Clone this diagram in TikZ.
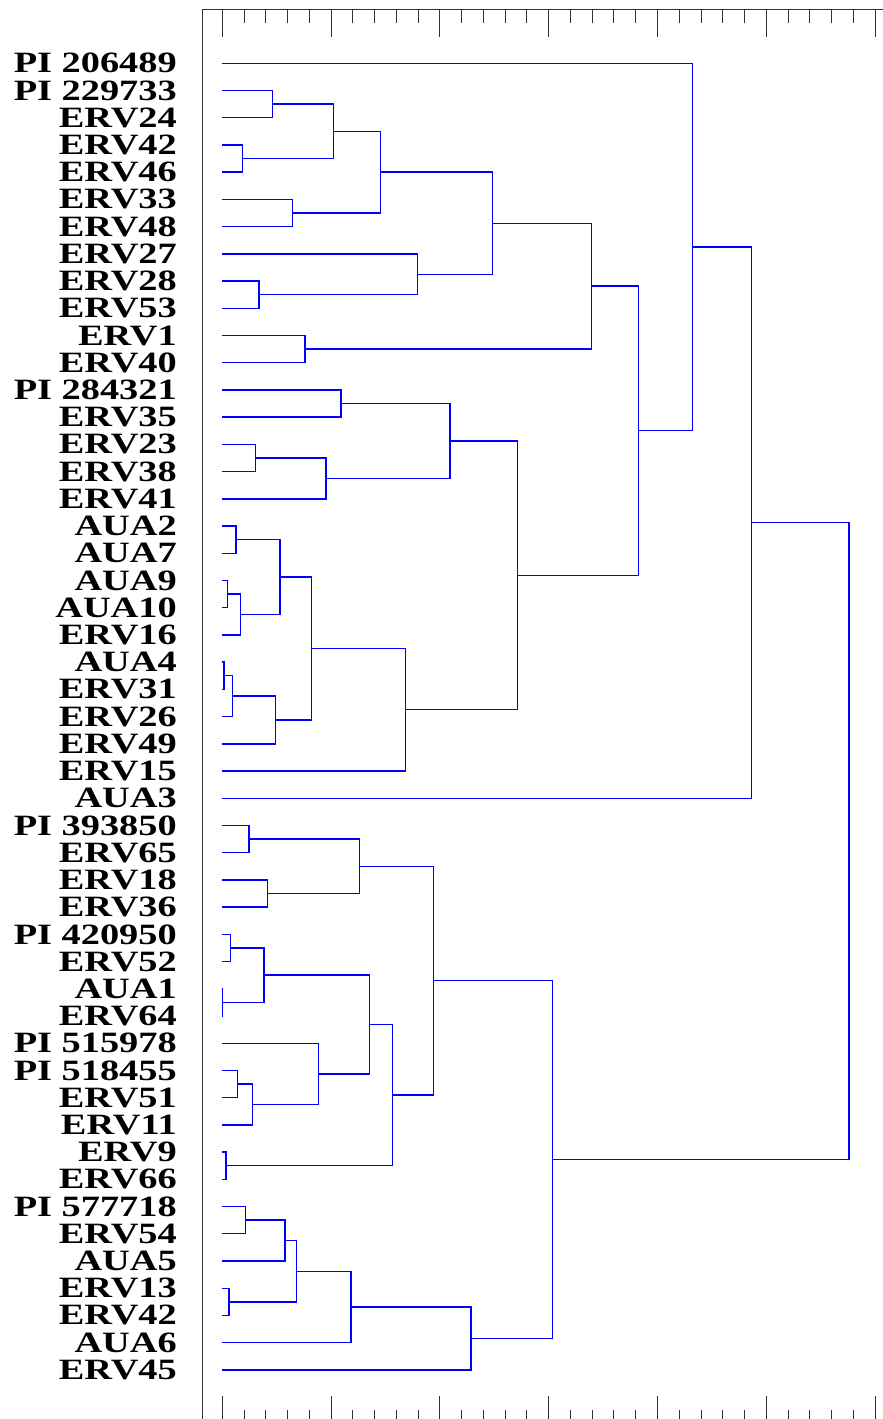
\documentclass[tikz,border=0pt]{standalone}
\usepackage{fontspec}
\usepackage{tikz}
\usetikzlibrary{calc}
\newfontfamily\lblfont{Liberation Serif}[FakeStretch=1.3]

% join two clusters at a given height
\newcommand\joinpair[4]{%
  \coordinate (#1m) at ($(#3)!.5!(#4)$);
  \coordinate (#1) at (#2,0 |- #1m);
  \draw[link] (#3) -| (#1) |- (#4);}

\begin{document}
\begin{tikzpicture}[x=1pt, y=-1pt,
  link/.style={blue, line width=1.4pt},
  axis/.style={black!80, line width=1pt},
  lbl/.style={anchor=east, inner sep=0pt, font=\lblfont\bfseries\fontsize{29.5}{30}\selectfont}]
  \useasboundingbox (0,0) rectangle (883,1419);

  % frame and scale
  \draw[axis] (883,9) -- (202.5,9) -- (202.5,1419);
  \foreach \k in {0,...,30} {
    \draw[axis] ({222.3+21.76*\k},9) -- ++(0,14);
    \draw[axis] ({222.3+21.76*\k},1419) -- ++(0,-9);
  }
  \foreach \k in {0,5,...,30} {
    \draw[axis] ({222.3+21.76*\k},9) -- ++(0,28);
    \draw[axis] ({222.3+21.76*\k},1419) -- ++(0,-23.5);
  }

  % leaves
  \foreach \t [count=\i] in {PI 206489, PI 229733, ERV24, ERV42, ERV46, ERV33, ERV48,
      ERV27, ERV28, ERV53, ERV1, ERV40, PI 284321, ERV35, ERV23, ERV38, ERV41,
      AUA2, AUA7, AUA9, AUA10, ERV16, AUA4, ERV31, ERV26, ERV49, ERV15, AUA3,
      PI 393850, ERV65, ERV18, ERV36, PI 420950, ERV52, AUA1, ERV64, PI 515978,
      PI 518455, ERV51, ERV11, ERV9, ERV66, PI 577718, ERV54, AUA5, ERV13,
      ERV42, AUA6, ERV45} {
    \node[lbl] (n\i) at (177,{63.3+27.22*(\i-1)}) {\t};
    \coordinate (l\i) at (222.3,{63.3+27.22*(\i-1)});
  }

  % upper clusters
  \joinpair{a1}{272.3}{l2}{l3}
  \joinpair{a2}{242.3}{l4}{l5}
  \joinpair{a3}{333.3}{a1}{a2}
  \joinpair{a4}{292.3}{l6}{l7}
  \joinpair{a5}{380.7}{a3}{a4}
  \joinpair{a6}{259}{l9}{l10}
  \joinpair{a7}{417.3}{l8}{a6}
  \joinpair{a8}{492.7}{a5}{a7}
  \joinpair{a9}{305}{l11}{l12}
  \joinpair{a10}{591.7}{a8}{a9}
  \joinpair{b1}{341}{l13}{l14}
  \joinpair{b2}{255.7}{l15}{l16}
  \joinpair{b3}{326}{b2}{l17}
  \joinpair{b4}{450}{b1}{b3}
  \joinpair{b5}{236}{l18}{l19}
  \joinpair{b6}{227.7}{l20}{l21}
  \joinpair{b7}{240.7}{b6}{l22}
  \joinpair{b8}{280}{b5}{b7}
  \joinpair{b9}{224}{l23}{l24}
  \joinpair{b10}{232.7}{b9}{l25}
  \joinpair{b11}{275.7}{b10}{l26}
  \joinpair{b12}{311.7}{b8}{b11}
  \joinpair{b13}{405.7}{b12}{l27}
  \joinpair{b14}{517.7}{b4}{b13}
  \joinpair{c1}{638.3}{a10}{b14}
  \joinpair{c2}{692.3}{l1}{c1}
  \joinpair{c3}{751.7}{c2}{l28}

  % lower clusters
  \joinpair{d1}{249}{l29}{l30}
  \joinpair{d2}{267.3}{l31}{l32}
  \joinpair{d3}{359.5}{d1}{d2}
  \joinpair{d4}{230.7}{l33}{l34}
  \joinpair{d5}{222.7}{l35}{l36}
  \joinpair{d6}{264}{d4}{d5}
  \joinpair{d7}{237.7}{l38}{l39}
  \joinpair{d8}{252.3}{d7}{l40}
  \joinpair{d9}{318.3}{l37}{d8}
  \joinpair{d10}{369.4}{d6}{d9}
  \joinpair{d11}{226}{l41}{l42}
  \joinpair{d12}{392.5}{d10}{d11}
  \joinpair{d13}{433.3}{d3}{d12}
  \joinpair{e1}{245.7}{l43}{l44}
  \joinpair{e2}{285}{e1}{l45}
  \joinpair{e3}{229}{l46}{l47}
  \joinpair{e4}{296.7}{e2}{e3}
  \joinpair{e5}{351}{e4}{l48}
  \joinpair{e6}{471}{e5}{l49}
  \joinpair{e7}{552.2}{d13}{e6}

  \joinpair{root}{849}{c3}{e7}
\end{tikzpicture}
\end{document}
